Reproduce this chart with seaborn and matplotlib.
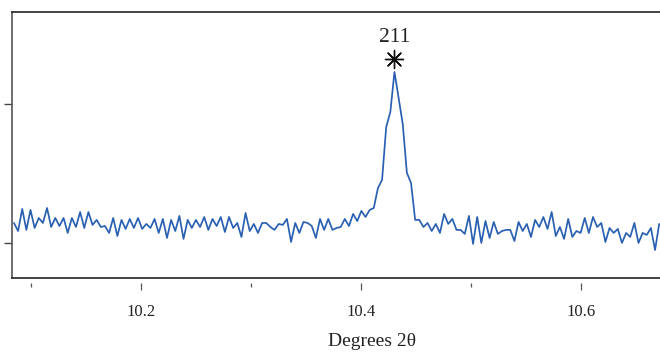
import numpy as np
import pandas as pd
import matplotlib
matplotlib.use("Agg")
import matplotlib.pyplot as plt
import seaborn as sns

# ---- data -------------------------------------------------------------
scan_start = 10.0845   # degrees 2theta
scan_step = 0.00376
intensity = [
    114.2, 108.4, 124.3, 109.2, 123.6, 110.6, 117.8, 114.2, 125.0, 111.3,
    117.8, 112.0, 117.8, 107.0, 117.8, 111.3, 122.1, 110.6, 122.1, 112.8,
    116.4, 111.3, 112.0, 107.0, 117.8, 104.8, 116.4, 109.9, 117.1, 110.6,
    117.8, 109.9, 113.5, 110.6, 117.1, 107.0, 117.1, 103.4, 116.4, 108.4,
    119.3, 102.7, 116.4, 110.6, 116.4, 111.3, 118.5, 109.2, 117.1, 112.0,
    118.5, 107.7, 118.5, 110.6, 114.2, 104.1, 121.4, 108.4, 113.5, 107.0,
    114.2, 114.2, 111.3, 109.2, 113.5, 112.8, 117.1, 100.5, 114.2, 107.0,
    114.9, 114.2, 112.0, 103.4, 117.1, 109.2, 117.1, 109.2, 110.6, 111.3,
    117.1, 112.0, 120.7, 115.6, 122.9, 118.5, 123.6, 125.0, 139.4, 145.2,
    183.4, 194.2, 223.1, 204.3, 185.6, 150.3, 143.1, 116.4, 116.4, 111.3,
    114.2, 108.4, 113.5, 107.0, 120.7, 113.5, 117.1, 109.2, 109.2, 106.3,
    119.3, 99.1, 118.5, 99.8, 115.6, 103.4, 114.9, 106.3, 108.4, 109.2,
    109.2, 101.2, 114.9, 108.4, 113.5, 104.1, 116.4, 111.3, 118.5, 109.9,
    122.1, 104.8, 111.3, 102.7, 117.1, 104.1, 108.4, 107.0, 117.8, 107.0,
    118.5, 111.3, 114.2, 100.5, 110.6, 107.0, 109.9, 99.8, 107.0, 104.1,
    114.2, 99.8, 107.0, 105.6, 110.6, 94.7, 113.5,
]
two_theta = np.round(scan_start + scan_step * np.arange(len(intensity)), 5)

peak_label = "211"
peak_index = int(np.argmax(intensity))
marker_intensity = 232.2

x_ticks_major = [10.2, 10.4, 10.6]
x_ticks_minor = [10.1, 10.3, 10.5]
y_ticks = [100, 200]

df = pd.DataFrame({"two_theta": two_theta, "intensity": intensity})

# ---- figure -----------------------------------------------------------
sns.set_style("white")
plt.rcParams["font.family"] = ["Liberation Serif", "DejaVu Serif"]

fig = plt.figure(figsize=(6.6, 3.52), dpi=100)
ax = fig.add_axes([12.3 / 660, 1 - 278.3 / 352, 1 - 12.3 / 660, (278.3 - 12.3) / 352])

sns.lineplot(data=df, x="two_theta", y="intensity", ax=ax,
             color="#2a60b2", linewidth=1.25, estimator=None)

px = two_theta[peak_index]
ax.scatter([px], [marker_intensity], marker=(8, 2, 0), s=170,
           color="#111111", linewidths=1.0, zorder=5)
ax.scatter([px], [marker_intensity], marker="o", s=7, color="#111111", zorder=6)
ax.annotate(peak_label, (px, marker_intensity), xytext=(0, 9),
            textcoords="offset points", ha="center", va="bottom",
            fontsize=15.5, color="#222222")

ax.set_xlim(10.083, 10.6718)
ax.set_ylim(74.3, 266.1)
ax.set_ylabel("")
ax.set_xlabel("")

# spines
ax.spines["right"].set_visible(False)
for s in ["left", "top", "bottom"]:
    ax.spines[s].set_color("#222222")
    ax.spines[s].set_linewidth(1.2)
ax.spines["left"].set_color("#555555")

# y ticks (no labels)
ax.set_yticks(y_ticks)
ax.set_yticklabels([])
ax.tick_params(axis="y", direction="out", length=6, width=1.0, color="#444444", left=True)

# main x axis: no ticks
ax.set_xticks([])

# secondary x axis slightly below to mimic offset ticks
sec = ax.secondary_xaxis(-0.016)
sec.spines["bottom"].set_visible(False)
sec.set_xticks(x_ticks_major)
sec.set_xticklabels([f"{v:.1f}" for v in x_ticks_major])
sec.set_xticks(x_ticks_minor, minor=True)
sec.tick_params(axis="x", which="major", direction="out", length=5, width=0.9,
                color="#555555", pad=10.3, labelsize=12, labelcolor="#222222")
sec.tick_params(axis="x", which="minor", direction="out", length=3, width=0.9,
                color="#555555")
sec.set_xlabel("")

fig.text(372 / 660, 1 - 342 / 352, "Degrees 2θ", ha="center", va="center",
         fontsize=14, color="#222222")

fig.savefig("out.png", dpi=100)
